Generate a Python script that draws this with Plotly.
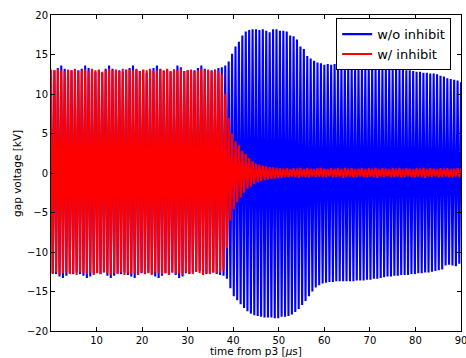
import numpy as np
import plotly.graph_objects as go

# ---- data ----
PERIOD_US = 0.75  # time between successive oscillation cycles [us]

# positive / negative peak of each cycle, w/o inhibit (blue)
blue_upper = [
    12.9, 13.0, 13.3, 13.6, 13.2, 12.9, 13.0, 12.8, 13.0, 13.2,
    13.6, 13.3, 12.9, 12.8, 13.0, 12.7, 13.2, 13.6, 13.2, 12.9,
    13.0, 12.8, 13.1, 13.3, 13.6, 13.1, 12.9, 13.0, 12.7, 13.0,
    13.3, 13.6, 13.2, 12.9, 13.0, 12.8, 13.1, 13.6, 13.4, 12.9,
    13.0, 12.8, 13.0, 13.3, 13.6, 13.2, 12.9, 13.0, 13.1, 13.3,
    13.4, 13.6, 14.1, 15.1, 16.0, 16.6, 17.4, 17.9, 18.1, 18.2,
    18.2, 18.1, 18.2, 18.0, 17.8, 18.2, 18.2, 18.0, 18.0, 17.9,
    17.4, 17.3, 16.9, 16.0, 15.7, 14.8, 14.5, 14.2, 14.0, 13.9,
    13.7, 13.8, 13.7, 13.8, 13.7, 13.8, 13.7, 13.7, 13.6, 13.7,
    13.6, 13.6, 13.5, 13.6, 13.5, 13.4, 13.4, 13.3, 13.3, 13.3,
    13.2, 13.2, 13.1, 13.1, 13.0, 13.0, 12.9, 12.8, 12.8, 12.7,
    12.7, 12.6, 12.6, 12.5, 12.3, 12.2, 12.0, 11.9, 11.8, 11.7,
    11.5,
]
blue_lower = [
    -12.7, -12.8, -13.1, -13.3, -13.0, -12.7, -12.8, -12.6, -12.8, -13.0,
    -13.3, -13.1, -12.7, -12.6, -12.8, -12.6, -13.0, -13.3, -13.0, -12.7,
    -12.8, -12.6, -12.9, -13.1, -13.3, -12.9, -12.7, -12.8, -12.6, -12.8,
    -13.1, -13.3, -13.0, -12.7, -12.8, -12.6, -12.9, -13.3, -13.1, -12.7,
    -12.8, -12.6, -12.5, -12.4, -12.6, -12.8, -12.5, -12.6, -12.8, -12.9,
    -13.0, -13.4, -14.6, -15.6, -16.1, -16.6, -17.1, -17.5, -17.8, -18.0,
    -18.1, -18.2, -18.3, -18.3, -18.3, -18.4, -18.4, -18.2, -18.2, -18.1,
    -17.9, -17.6, -17.2, -16.7, -16.2, -15.6, -15.0, -14.5, -14.2, -14.0,
    -13.9, -13.8, -13.8, -13.7, -13.7, -13.7, -13.7, -13.7, -13.7, -13.6,
    -13.6, -13.6, -13.5, -13.5, -13.4, -13.4, -13.3, -13.2, -13.1, -13.1,
    -13.0, -13.0, -12.9, -12.9, -12.9, -12.8, -12.8, -12.7, -12.7, -12.6,
    -12.6, -12.5, -12.4, -12.3, -12.2, -11.7, -11.6, -11.7, -11.8, -11.5,
    -11.4,
]

# positive / negative peak of each cycle, w/ inhibit (red)
red_upper = [
    13.1, 13.0, 13.2, 13.0, 12.9, 13.1, 13.0, 13.2, 12.9, 13.0,
    13.1, 12.9, 13.2, 13.0, 13.1, 12.8, 13.0, 13.2, 13.0, 13.1,
    12.9, 13.2, 13.0, 13.1, 13.0, 13.2, 12.9, 13.1, 13.0, 13.2,
    12.9, 13.0, 13.1, 13.0, 13.2, 12.9, 13.1, 13.0, 13.2, 12.9,
    13.0, 13.1, 12.8, 13.0, 13.2, 13.0, 13.1, 12.9, 13.0, 12.9,
    12.5, 10.0, 7.0, 5.0, 4.0, 3.5, 2.8, 2.4, 1.9, 1.5,
    1.2, 1.05, 0.95, 0.85, 0.75, 0.7, 0.65, 0.6, 0.55, 0.6,
    0.5, 0.6, 0.55, 0.65, 0.5, 0.6, 0.55, 0.5, 0.6, 0.65,
    0.55, 0.5, 0.6, 0.55, 0.6, 0.5, 0.65, 0.55, 0.6, 0.5,
    0.55, 0.6, 0.5, 0.6, 0.55, 0.65, 0.5, 0.6, 0.55, 0.5,
    0.6, 0.55, 0.65, 0.5, 0.6, 0.55, 0.5, 0.6, 0.55, 0.65,
    0.5, 0.6, 0.55, 0.5, 0.6, 0.55, 0.6, 0.5, 0.55, 0.6,
    0.55,
]
red_lower = [
    -12.8, -12.6, -12.9, -12.7, -12.6, -12.8, -12.7, -12.9, -12.6, -12.7,
    -12.8, -12.6, -12.9, -12.7, -12.8, -12.5, -12.7, -12.9, -12.7, -12.8,
    -12.6, -12.9, -12.7, -12.8, -12.7, -12.9, -12.6, -12.8, -12.7, -12.9,
    -12.6, -12.7, -12.8, -12.7, -12.9, -12.6, -12.8, -12.7, -12.9, -12.6,
    -12.7, -12.8, -12.5, -12.7, -12.9, -12.7, -12.8, -12.6, -12.7, -12.6,
    -12.3, -9.5, -6.0, -4.6, -3.7, -3.1, -2.5, -2.0, -1.7, -1.4,
    -1.15, -1.0, -0.9, -0.85, -0.75, -0.7, -0.65, -0.6, -0.5, -0.55,
    -0.45, -0.5, -0.6, -0.45, -0.5, -0.55, -0.4, -0.5, -0.45, -0.55,
    -0.5, -0.4, -0.55, -0.5, -0.45, -0.6, -0.5, -0.45, -0.55, -0.5,
    -0.4, -0.5, -0.55, -0.45, -0.5, -0.6, -0.45, -0.5, -0.4, -0.55,
    -0.5, -0.45, -0.55, -0.5, -0.4, -0.5, -0.55, -0.45, -0.5, -0.6,
    -0.45, -0.5, -0.4, -0.55, -0.5, -0.45, -0.5, -0.55, -0.45, -0.5,
    -0.5,
]

series_names = ["w/o inhibit", "w/ inhibit"]
x_ticks = [10, 20, 30, 40, 50, 60, 70, 80, 90]
y_ticks = [-20, -15, -10, -5, 0, 5, 10, 15, 20]


def zigzag(upper, lower):
    n = len(upper)
    t = np.arange(n) * PERIOD_US
    xs = np.empty(2 * n)
    ys = np.empty(2 * n)
    xs[0::2] = t
    xs[1::2] = t + PERIOD_US / 2
    ys[0::2] = upper
    ys[1::2] = lower
    return xs, ys


bx, by = zigzag(blue_upper, blue_lower)
rx, ry = zigzag(red_upper, red_lower)

font = "DejaVu Sans"
fig = go.Figure()
fig.add_trace(go.Scatter(x=bx, y=by, mode="lines", name=series_names[0],
                         line=dict(color="#0000ff", width=2.1)))
fig.add_trace(go.Scatter(x=rx, y=ry, mode="lines", name=series_names[1],
                         line=dict(color="#ff0000", width=2.1)))

axis_common = dict(showgrid=False, zeroline=False, showline=True,
                   linecolor="black", linewidth=1, mirror="ticks",
                   ticks="inside", ticklen=4, tickcolor="black",
                   automargin=False, ticklabeloverflow="allow",
                   tickfont=dict(family=font, size=10, color="black"))

fig.update_xaxes(range=[0, 90], tickvals=x_ticks,
                 ticktext=[str(v) for v in x_ticks], **axis_common)
fig.update_yaxes(range=[-20, 20], tickvals=y_ticks,
                 ticktext=[str(v).replace("-", "\u2212") for v in y_ticks],
                 **axis_common)

fig.update_layout(
    width=466, height=358,
    margin=dict(l=51, r=5, t=15, b=27),
    paper_bgcolor="white", plot_bgcolor="white",
    font=dict(family=font),
    showlegend=True,
    legend=dict(x=0.976, y=0.99, xanchor="right", yanchor="top",
                bgcolor="white", bordercolor="black", borderwidth=1,
                font=dict(family=font, size=13, color="black"),
                tracegroupgap=0),
    annotations=[
        dict(text="time from p3 [<i>μ</i>s]", xref="paper", yref="paper",
             x=0.5, y=-0.0854, xanchor="center", yanchor="bottom",
             showarrow=False, borderpad=0,
             font=dict(family=font, size=10.5, color="black")),
        dict(text="gap voltage [kV]", xref="paper", yref="paper",
             x=-0.083, y=0.5, xanchor="center", yanchor="middle",
             textangle=-90, showarrow=False,
             font=dict(family=font, size=10.5, color="black")),
    ],
)

fig.write_html(
    "out.html",
    config={"displayModeBar": False},
    post_script="document.body.style.margin='0';"
                "document.body.style.overflow='hidden';",
)
